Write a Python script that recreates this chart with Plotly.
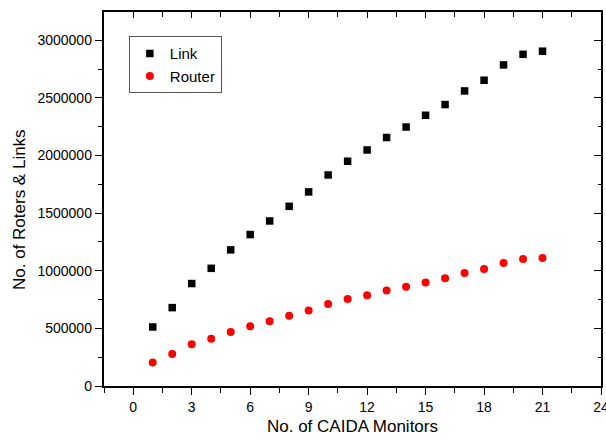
import plotly.graph_objects as go

monitors = list(range(1, 22))
links = [512000, 680000, 889000, 1021000, 1181000, 1314000, 1432000, 1559000, 1684000,
         1831000, 1950000, 2048000, 2156000, 2247000, 2349000, 2442000, 2560000, 2653000,
         2786000, 2878000, 2905000]
routers = [203000, 278000, 362000, 411000, 468000, 518000, 562000, 610000, 654000,
           712000, 755000, 787000, 828000, 862000, 897000, 934000, 980000, 1015000,
           1067000, 1102000, 1110000]

x_ticks = [0, 3, 6, 9, 12, 15, 18, 21, 24]
y_ticks = [0, 500000, 1000000, 1500000, 2000000, 2500000, 3000000]

FONT = "Liberation Sans, Arial, sans-serif"

fig = go.Figure()
fig.add_trace(go.Scatter(x=monitors, y=links, mode="markers", name="Link",
                         marker=dict(symbol="square", size=7.5, color="black")))
fig.add_trace(go.Scatter(x=monitors, y=routers, mode="markers", name="Router",
                         marker=dict(symbol="circle", size=8, color="#ff0000")))

axis_common = dict(showgrid=False, zeroline=False, showline=True, linecolor="black",
                   linewidth=1.5, tickcolor="black", tickwidth=1.3, automargin=False)

fig.update_layout(
    width=606, height=443,
    margin=dict(l=104, r=5, t=12, b=57, autoexpand=False),
    paper_bgcolor="white", plot_bgcolor="white",
    font=dict(family=FONT, color="black"),
    showlegend=True,
    legend=dict(x=0.05, y=0.935, xanchor="left", yanchor="top",
                bordercolor="#555555", borderwidth=1, bgcolor="white",
                font=dict(size=15, family=FONT), tracegroupgap=0),
    xaxis=dict(range=[-1.5, 24], tickvals=x_ticks, ticktext=[str(v) for v in x_ticks],
               ticks="outside", ticklen=7.5, ticklabeloverflow="allow",
               minor=dict(dtick=1.5, tick0=0, ticks="outside", ticklen=5, tickcolor="black", tickwidth=1.3),
               tickfont=dict(size=14, family=FONT),
               title=dict(text="No. of CAIDA Monitors", font=dict(size=17, family=FONT), standoff=6),
               **axis_common),
    yaxis=dict(range=[0, 3245000], tickvals=y_ticks, ticktext=[str(v) for v in y_ticks],
               ticks="outside", ticklen=7.5,
               minor=dict(dtick=250000, tick0=0, ticks="outside", ticklen=4.5, tickcolor="black", tickwidth=1.3),
               tickfont=dict(size=14, family=FONT),
               **axis_common),
    xaxis2=dict(range=[-1.5, 24], overlaying="x", side="top", tickvals=x_ticks,
                showticklabels=False, ticks="inside", ticklen=6,
                minor=dict(dtick=1.5, tick0=0, ticks="inside", ticklen=5, tickcolor="black", tickwidth=1.3),
                **axis_common),
    yaxis2=dict(range=[0, 3245000], overlaying="y", side="right", tickvals=y_ticks,
                showticklabels=False, ticks="inside", ticklen=7,
                minor=dict(dtick=250000, tick0=0, ticks="inside", ticklen=3.5, tickcolor="black", tickwidth=1.3),
                **axis_common),
    annotations=[dict(text="No. of Roters & Links", textangle=-90, xref="paper", yref="paper",
                      x=(19 - 104) / 497, y=(386 - 210) / 374, xanchor="center", yanchor="middle",
                      showarrow=False, font=dict(size=17, family=FONT, color="black"))],
)
# invisible helper trace that activates the mirrored top/right axes
fig.add_trace(go.Scatter(x=[None], y=[None], xaxis="x2", yaxis="y2", showlegend=False,
                         hoverinfo="skip"))

fig.write_html("out.html", config={"displayModeBar": False},
               post_script="document.body.style.margin='0';document.body.style.overflow='hidden';")
